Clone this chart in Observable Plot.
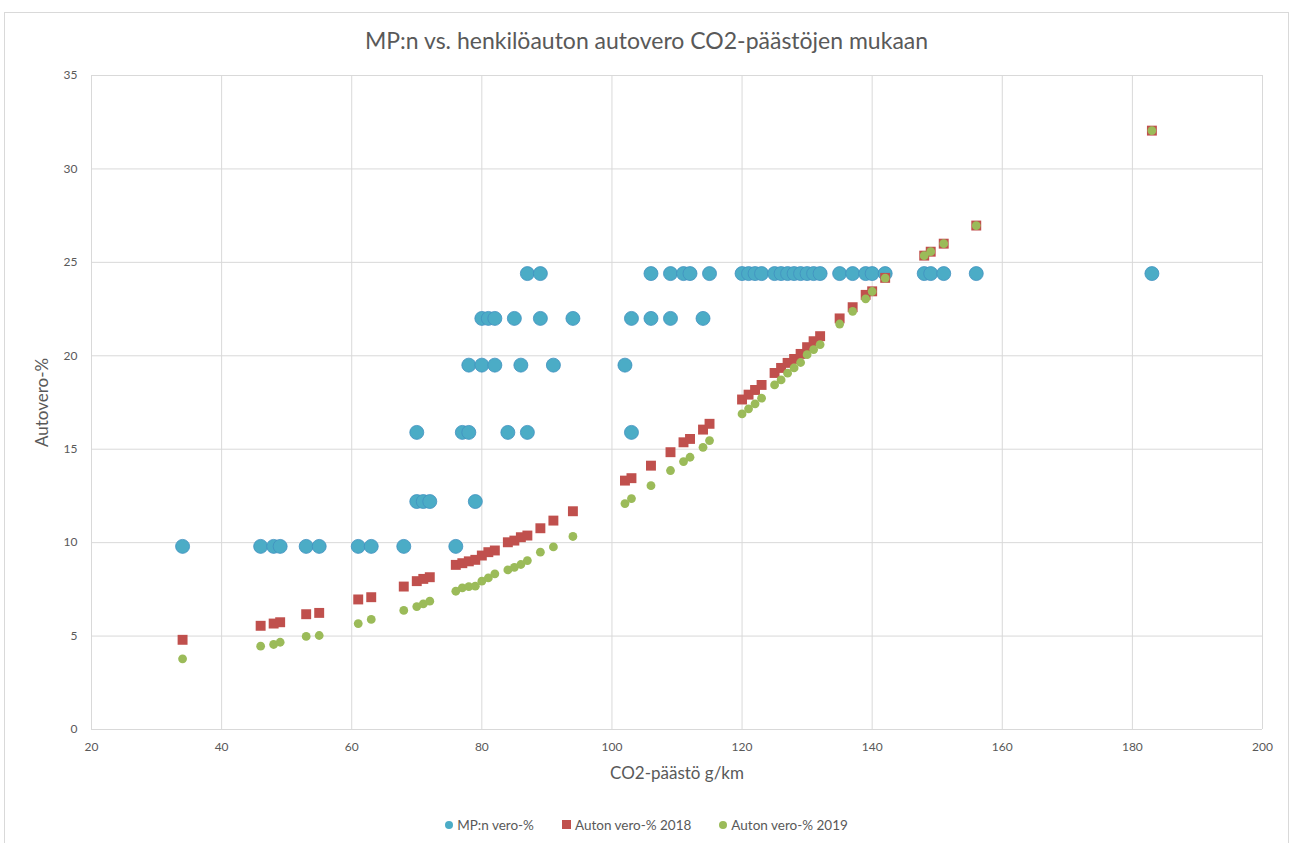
<!DOCTYPE html>
<html>
<head>
<meta charset="utf-8">
<script src="https://cdn.jsdelivr.net/npm/d3@7"></script>
<script src="https://cdn.jsdelivr.net/npm/@observablehq/plot@0.6"></script>
<style>
  html, body { margin: 0; padding: 0; background: #fff; }
  body { width: 1293px; height: 843px; position: relative; overflow: hidden; font-family: Lato, "Open Sans", sans-serif; color: #595959; }
  #frame { position: absolute; left: 4px; top: 12px; width: 1285px; height: 845px; border: 1px solid #d9d9d9; box-sizing: border-box; }
  #title { position: absolute; left: 0; top: 26px; width: 1293px; text-align: center; font-size: 23px; color: #595959; }
  #chart { position: absolute; left: 0; top: 60px; }
  #legend { position: absolute; left: 0; top: 816px; width: 1293px; text-align: center; font-size: 13.5px; color: #595959; white-space: nowrap; }
  #legend span.item { display: inline-flex; align-items: center; margin: 0 14px; }
  #legend i { display: inline-block; margin-right: 4px; }
</style>
</head>
<body>
<div id="frame"></div>
<div id="title">MP:n vs. henkilöauton autovero CO2-päästöjen mukaan</div>
<div id="chart"></div>
<div id="legend"></div>
<script>
// ---- Data ----
const seriesNames = ["MP:n vero-%", "Auton vero-% 2018", "Auton vero-% 2019"];
const seriesColors = ["#4bacc6", "#c0504d", "#9bbb59"];

// MP:n vero-% (CO2 g/km, vero-%)
const mpCo2 = [34, 46, 48, 49, 53, 55, 61, 63, 68, 76,
  70, 71, 72, 79,
  70, 77, 78, 84, 87, 103,
  78, 80, 82, 86, 91, 102,
  80, 81, 82, 85, 89, 94, 103, 106, 109, 114,
  87, 89, 106, 109, 111, 112, 115, 120, 121, 122, 123, 125, 126, 127, 128, 129, 130, 131, 132, 135, 137, 139, 140, 142, 148, 149, 151, 156, 183];
const mpVero = [9.8, 9.8, 9.8, 9.8, 9.8, 9.8, 9.8, 9.8, 9.8, 9.8,
  12.2, 12.2, 12.2, 12.2,
  15.9, 15.9, 15.9, 15.9, 15.9, 15.9,
  19.5, 19.5, 19.5, 19.5, 19.5, 19.5,
  22.0, 22.0, 22.0, 22.0, 22.0, 22.0, 22.0, 22.0, 22.0, 22.0,
  24.4, 24.4, 24.4, 24.4, 24.4, 24.4, 24.4, 24.4, 24.4, 24.4, 24.4, 24.4, 24.4, 24.4, 24.4, 24.4, 24.4, 24.4, 24.4, 24.4, 24.4, 24.4, 24.4, 24.4, 24.4, 24.4, 24.4, 24.4, 24.4];

// Auton vero-% 2018 and 2019
const autoCo2 = [34, 46, 48, 49, 53, 55, 61, 63, 68, 70, 71, 72, 76, 77, 78, 79, 80, 81, 82, 84, 85, 86, 87, 89, 91, 94,
  102, 103, 106, 109, 111, 112, 114, 115, 120, 121, 122, 123, 125, 126, 127, 128, 129, 130, 131, 132,
  135, 137, 139, 140, 142, 148, 149, 151, 156, 183];
const vero2018 = [4.8, 5.55, 5.67, 5.74, 6.17, 6.24, 6.96, 7.08, 7.65, 7.94, 8.06, 8.15, 8.81, 8.9, 9.0, 9.08, 9.31, 9.49, 9.58, 10.02, 10.11, 10.29, 10.38, 10.77, 11.18, 11.68,
  13.32, 13.45, 14.12, 14.84, 15.37, 15.55, 16.05, 16.36, 17.66, 17.92, 18.17, 18.44, 19.08, 19.35, 19.62, 19.83, 20.1, 20.46, 20.78, 21.05,
  22.0, 22.6, 23.26, 23.45, 24.17, 25.36, 25.57, 26.0, 26.97, 32.05];
const vero2019 = [3.78, 4.46, 4.55, 4.67, 4.98, 5.03, 5.67, 5.89, 6.37, 6.58, 6.72, 6.87, 7.4, 7.58, 7.65, 7.67, 7.94, 8.11, 8.33, 8.54, 8.68, 8.83, 9.04, 9.49, 9.77, 10.33,
  12.09, 12.36, 13.05, 13.86, 14.34, 14.57, 15.1, 15.46, 16.89, 17.16, 17.43, 17.73, 18.44, 18.71, 19.07, 19.35, 19.64, 20.06, 20.33, 20.6,
  21.7, 22.38, 23.05, 23.44, 24.16, 25.36, 25.57, 26.0, 26.97, 32.05];

const xTicks = [20, 40, 60, 80, 100, 120, 140, 160, 180, 200];
const yTicks = [0, 5, 10, 15, 20, 25, 30, 35];
const xTitle = "CO2-päästö g/km";
const yTitle = "Autovero-%";

// ---- Tables ----
const mpData = mpCo2.map((x, i) => ({x, y: mpVero[i]}));
const d2018 = autoCo2.map((x, i) => ({x, y: vero2018[i]}));
const d2019 = autoCo2.map((x, i) => ({x, y: vero2019[i]}));

const chart = Plot.plot({
  width: 1293,
  height: 740,
  marginLeft: 91,
  marginRight: 31,
  marginTop: 15,
  marginBottom: 71,
  style: {fontFamily: "Lato, 'Open Sans', sans-serif", fontSize: "12px", color: "#595959", background: "transparent"},
  x: {domain: [20, 200], ticks: xTicks},
  y: {domain: [0, 35], ticks: yTicks},
  marks: [
    Plot.gridX(xTicks, {stroke: "#d9d9d9", strokeOpacity: 1, strokeWidth: 1}),
    Plot.gridY(yTicks, {stroke: "#d9d9d9", strokeOpacity: 1, strokeWidth: 1}),
    Plot.axisX(xTicks, {tickSize: 0, tickPadding: 13, label: null, fill: "#595959", fontSize: 12}),
    Plot.axisY(yTicks, {tickSize: 0, tickPadding: 14, label: null, fill: "#595959", fontSize: 12}),
    Plot.text([xTitle], {frameAnchor: "bottom", dy: 49, fontSize: 17, fill: "#595959", textAnchor: "middle"}),
    Plot.text([yTitle], {frameAnchor: "left", dx: -49, rotate: -90, fontSize: 17, fill: "#595959", textAnchor: "middle", lineAnchor: "middle"}),
    Plot.dot(mpData, {x: "x", y: "y", r: 7, fill: seriesColors[0], stroke: "#4190c0", strokeWidth: 0.8}),
    Plot.dot(d2018, {x: "x", y: "y", r: 5.6, symbol: "square", fill: seriesColors[1], stroke: null}),
    Plot.dot(d2019, {x: "x", y: "y", r: 4.4, fill: seriesColors[2], stroke: null})
  ]
});
document.getElementById("chart").appendChild(chart);

// ---- Legend ----
const legend = document.getElementById("legend");
const shapes = [
  "width:8px;height:8px;border-radius:50%;",
  "width:9px;height:9px;",
  "width:8px;height:8px;border-radius:50%;"
];
seriesNames.forEach((name, i) => {
  const item = document.createElement("span");
  item.className = "item";
  const sw = document.createElement("i");
  sw.style.cssText = shapes[i] + "background:" + seriesColors[i] + ";";
  item.appendChild(sw);
  item.appendChild(document.createTextNode(name));
  legend.appendChild(item);
});
</script>
</body>
</html>
